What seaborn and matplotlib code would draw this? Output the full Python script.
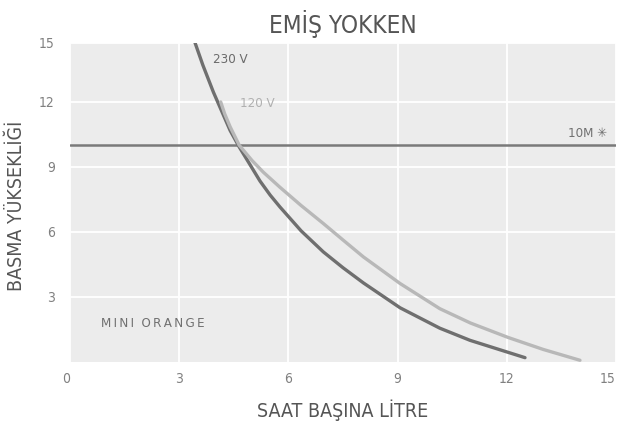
import matplotlib
matplotlib.use("Agg")
import matplotlib.pyplot as plt
import seaborn as sns
import pandas as pd

# Data
flow_230 = [3.41, 3.65, 3.94, 4.40, 4.65, 5.22, 5.5, 5.77, 6.35, 6.96, 7.5, 8.06, 9.07, 10.16, 10.99, 12.5]
head_230 = [14.85, 13.7, 12.45, 10.68, 9.92, 8.35, 7.7, 7.15, 6.05, 5.08, 4.35, 3.65, 2.5, 1.56, 1.0, 0.2]
flow_120 = [4.14, 4.25, 4.40, 4.65, 5.0, 5.31, 5.77, 6.35, 6.96, 7.5, 8.06, 9.07, 10.16, 11.0, 12.04, 13.0, 14.01]
head_120 = [12.0, 11.45, 10.85, 10.0, 9.3, 8.76, 8.06, 7.22, 6.39, 5.63, 4.85, 3.62, 2.46, 1.8, 1.13, 0.58, 0.08]
ref_head = 10
x_ticks = [0, 3, 6, 9, 12, 15]
y_ticks = [3, 6, 9, 12, 15]
title = "EMİŞ YOKKEN"
x_label = "SAAT BAŞINA LİTRE"
y_label = "BASMA YÜKSEKLİĞİ"

df = pd.concat([
    pd.DataFrame({"flow": flow_230, "head": head_230, "v": "230 V"}),
    pd.DataFrame({"flow": flow_120, "head": head_120, "v": "120 V"}),
])

sns.set_theme(style="darkgrid", rc={
    "axes.facecolor": "#ececec",
    "grid.color": "white",
    "grid.linewidth": 1.3,
})
plt.rcParams["font.family"] = ["DejaVu Sans"]
plt.rcParams["font.stretch"] = "condensed"

fig = plt.figure(figsize=(6.18, 4.23), dpi=100)
ax = fig.add_axes([70 / 618, 1 - 362 / 423, (616 - 70) / 618, (362 - 43) / 423])

palette = {"230 V": "#6f6f6f", "120 V": "#b8b8b8"}
sns.lineplot(data=df, x="flow", y="head", hue="v", palette=palette, sort=False,
             estimator=None, linewidth=2.4, legend=False, ax=ax, zorder=3)
ax.axhline(ref_head, color="#7a7a7a", linewidth=1.8, zorder=2)

ytop = 14.72
ax.set_xlim(0, 15)
ax.set_ylim(0, ytop)
ax.set_xticks(x_ticks)
ax.set_xticklabels([str(t) for t in x_ticks])
ypos = [t if t < 15 else ytop for t in y_ticks]
ax.set_yticks(ypos)
ax.set_yticklabels([str(t) for t in y_ticks])
for s in ax.spines.values():
    s.set_visible(False)
ax.tick_params(axis="both", length=0, labelsize=10, labelcolor="#808080")
ax.tick_params(axis="y", pad=11)
ax.tick_params(axis="x", pad=7)
xl = ax.get_xticklabels()
xl[0].set_ha("right")
xl[-1].set_ha("right")

ax.set_xlabel(x_label, fontsize=14, color="#555555", va="center")
ax.xaxis.set_label_coords(0.5, (362 - 410) / 319)
ax.set_ylabel(y_label, fontsize=14, color="#555555", va="center")
ax.yaxis.set_label_coords((17 - 70) / 546, 0.49)
ax.set_title(title, fontsize=17.5, color="#555555", pad=7)

ax.text(3.93, 13.97, "230 V", fontsize=9.5, color="#6a6a6a", va="center", ha="left")
ax.text(4.67, 11.94, "120 V", fontsize=9.5, color="#b0b0b0", va="center", ha="left")
ax.text(14.75, 10.55, "10M \u2733", fontsize=9.5, color="#707070", va="center", ha="right")
ax.text(0.85, 1.79, "\u2009".join("MINI") + "  " + "\u2009".join("ORANGE"), fontsize=9.5,
        color="#707070", va="center", ha="left")

fig.savefig("out.png", dpi=100)
